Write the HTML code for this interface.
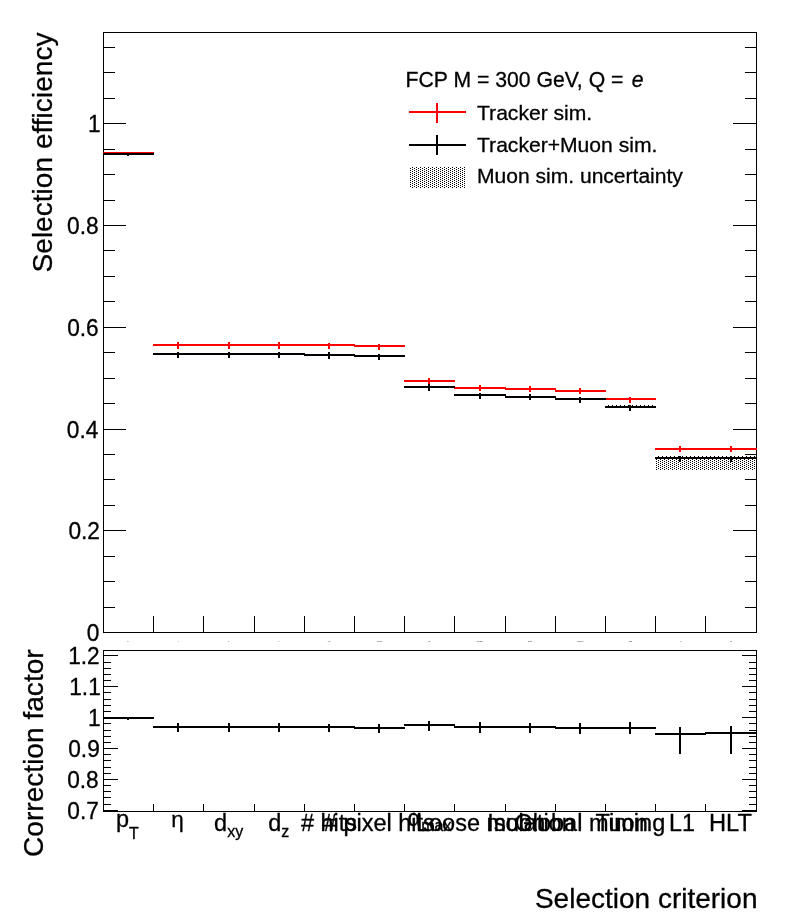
<!DOCTYPE html>
<html lang="en">
<head>
<meta charset="utf-8">
<title>Selection efficiency</title>
<style>
html,body{margin:0;padding:0;background:#fff;}
body{width:796px;height:922px;overflow:hidden;}
svg{display:block;}
text{font-family:"Liberation Sans", sans-serif;fill:#000;stroke:#000;stroke-width:0.3px;stroke-linejoin:round;}
text.tiny{stroke:none;}
</style>
</head>
<body>
<svg width="796" height="922" viewBox="0 0 796 922">
<defs>
<pattern id="dots" x="0" y="0" width="4" height="2" patternUnits="userSpaceOnUse">
<rect x="2" y="0" width="1" height="1" fill="#000"/>
<rect x="0" y="1" width="1" height="1" fill="#000"/>
</pattern>
</defs>
<rect x="0" y="0" width="796" height="922" fill="#fff"/>
<g shape-rendering="crispEdges">
<rect x="103" y="32" width="654" height="1" fill="#000"/>
<rect x="103" y="632" width="654" height="1" fill="#000"/>
<rect x="103" y="32" width="1" height="601" fill="#000"/>
<rect x="756" y="32" width="1" height="601" fill="#000"/>
<rect x="103" y="650" width="654" height="1" fill="#000"/>
<rect x="103" y="811" width="654" height="1" fill="#000"/>
<rect x="103" y="650" width="1" height="162" fill="#000"/>
<rect x="756" y="650" width="1" height="162" fill="#000"/>
<rect x="103" y="607" width="12" height="1" fill="#000"/>
<rect x="745" y="607" width="12" height="1" fill="#000"/>
<rect x="103" y="581" width="12" height="1" fill="#000"/>
<rect x="745" y="581" width="12" height="1" fill="#000"/>
<rect x="103" y="556" width="12" height="1" fill="#000"/>
<rect x="745" y="556" width="12" height="1" fill="#000"/>
<rect x="103" y="530" width="23" height="1" fill="#000"/>
<rect x="733" y="530" width="24" height="1" fill="#000"/>
<rect x="103" y="505" width="12" height="1" fill="#000"/>
<rect x="745" y="505" width="12" height="1" fill="#000"/>
<rect x="103" y="479" width="12" height="1" fill="#000"/>
<rect x="745" y="479" width="12" height="1" fill="#000"/>
<rect x="103" y="454" width="12" height="1" fill="#000"/>
<rect x="745" y="454" width="12" height="1" fill="#000"/>
<rect x="103" y="429" width="23" height="1" fill="#000"/>
<rect x="733" y="429" width="24" height="1" fill="#000"/>
<rect x="103" y="403" width="12" height="1" fill="#000"/>
<rect x="745" y="403" width="12" height="1" fill="#000"/>
<rect x="103" y="378" width="12" height="1" fill="#000"/>
<rect x="745" y="378" width="12" height="1" fill="#000"/>
<rect x="103" y="352" width="12" height="1" fill="#000"/>
<rect x="745" y="352" width="12" height="1" fill="#000"/>
<rect x="103" y="327" width="23" height="1" fill="#000"/>
<rect x="733" y="327" width="24" height="1" fill="#000"/>
<rect x="103" y="301" width="12" height="1" fill="#000"/>
<rect x="745" y="301" width="12" height="1" fill="#000"/>
<rect x="103" y="276" width="12" height="1" fill="#000"/>
<rect x="745" y="276" width="12" height="1" fill="#000"/>
<rect x="103" y="250" width="12" height="1" fill="#000"/>
<rect x="745" y="250" width="12" height="1" fill="#000"/>
<rect x="103" y="225" width="23" height="1" fill="#000"/>
<rect x="733" y="225" width="24" height="1" fill="#000"/>
<rect x="103" y="200" width="12" height="1" fill="#000"/>
<rect x="745" y="200" width="12" height="1" fill="#000"/>
<rect x="103" y="174" width="12" height="1" fill="#000"/>
<rect x="745" y="174" width="12" height="1" fill="#000"/>
<rect x="103" y="149" width="12" height="1" fill="#000"/>
<rect x="745" y="149" width="12" height="1" fill="#000"/>
<rect x="103" y="123" width="23" height="1" fill="#000"/>
<rect x="733" y="123" width="24" height="1" fill="#000"/>
<rect x="103" y="98" width="12" height="1" fill="#000"/>
<rect x="745" y="98" width="12" height="1" fill="#000"/>
<rect x="103" y="72" width="12" height="1" fill="#000"/>
<rect x="745" y="72" width="12" height="1" fill="#000"/>
<rect x="103" y="47" width="12" height="1" fill="#000"/>
<rect x="745" y="47" width="12" height="1" fill="#000"/>
<rect x="153" y="616" width="1" height="17" fill="#000"/>
<rect x="203" y="616" width="1" height="17" fill="#000"/>
<rect x="254" y="616" width="1" height="17" fill="#000"/>
<rect x="304" y="616" width="1" height="17" fill="#000"/>
<rect x="354" y="616" width="1" height="17" fill="#000"/>
<rect x="404" y="616" width="1" height="17" fill="#000"/>
<rect x="454" y="616" width="1" height="17" fill="#000"/>
<rect x="505" y="616" width="1" height="17" fill="#000"/>
<rect x="555" y="616" width="1" height="17" fill="#000"/>
<rect x="605" y="616" width="1" height="17" fill="#000"/>
<rect x="655" y="616" width="1" height="17" fill="#000"/>
<rect x="705" y="616" width="1" height="17" fill="#000"/>
<rect x="103" y="810" width="15" height="1" fill="#000"/>
<rect x="742" y="810" width="15" height="1" fill="#000"/>
<rect x="103" y="804" width="8" height="1" fill="#000"/>
<rect x="749" y="804" width="8" height="1" fill="#000"/>
<rect x="103" y="797" width="8" height="1" fill="#000"/>
<rect x="749" y="797" width="8" height="1" fill="#000"/>
<rect x="103" y="791" width="8" height="1" fill="#000"/>
<rect x="749" y="791" width="8" height="1" fill="#000"/>
<rect x="103" y="785" width="8" height="1" fill="#000"/>
<rect x="749" y="785" width="8" height="1" fill="#000"/>
<rect x="103" y="779" width="15" height="1" fill="#000"/>
<rect x="742" y="779" width="15" height="1" fill="#000"/>
<rect x="103" y="773" width="8" height="1" fill="#000"/>
<rect x="749" y="773" width="8" height="1" fill="#000"/>
<rect x="103" y="767" width="8" height="1" fill="#000"/>
<rect x="749" y="767" width="8" height="1" fill="#000"/>
<rect x="103" y="760" width="8" height="1" fill="#000"/>
<rect x="749" y="760" width="8" height="1" fill="#000"/>
<rect x="103" y="754" width="8" height="1" fill="#000"/>
<rect x="749" y="754" width="8" height="1" fill="#000"/>
<rect x="103" y="748" width="15" height="1" fill="#000"/>
<rect x="742" y="748" width="15" height="1" fill="#000"/>
<rect x="103" y="742" width="8" height="1" fill="#000"/>
<rect x="749" y="742" width="8" height="1" fill="#000"/>
<rect x="103" y="736" width="8" height="1" fill="#000"/>
<rect x="749" y="736" width="8" height="1" fill="#000"/>
<rect x="103" y="730" width="8" height="1" fill="#000"/>
<rect x="749" y="730" width="8" height="1" fill="#000"/>
<rect x="103" y="723" width="8" height="1" fill="#000"/>
<rect x="749" y="723" width="8" height="1" fill="#000"/>
<rect x="103" y="717" width="15" height="1" fill="#000"/>
<rect x="742" y="717" width="15" height="1" fill="#000"/>
<rect x="103" y="711" width="8" height="1" fill="#000"/>
<rect x="749" y="711" width="8" height="1" fill="#000"/>
<rect x="103" y="705" width="8" height="1" fill="#000"/>
<rect x="749" y="705" width="8" height="1" fill="#000"/>
<rect x="103" y="699" width="8" height="1" fill="#000"/>
<rect x="749" y="699" width="8" height="1" fill="#000"/>
<rect x="103" y="692" width="8" height="1" fill="#000"/>
<rect x="749" y="692" width="8" height="1" fill="#000"/>
<rect x="103" y="686" width="15" height="1" fill="#000"/>
<rect x="742" y="686" width="15" height="1" fill="#000"/>
<rect x="103" y="680" width="8" height="1" fill="#000"/>
<rect x="749" y="680" width="8" height="1" fill="#000"/>
<rect x="103" y="674" width="8" height="1" fill="#000"/>
<rect x="749" y="674" width="8" height="1" fill="#000"/>
<rect x="103" y="668" width="8" height="1" fill="#000"/>
<rect x="749" y="668" width="8" height="1" fill="#000"/>
<rect x="103" y="662" width="8" height="1" fill="#000"/>
<rect x="749" y="662" width="8" height="1" fill="#000"/>
<rect x="103" y="655" width="15" height="1" fill="#000"/>
<rect x="742" y="655" width="15" height="1" fill="#000"/>
<rect x="153" y="804" width="1" height="8" fill="#000"/>
<rect x="203" y="804" width="1" height="8" fill="#000"/>
<rect x="254" y="804" width="1" height="8" fill="#000"/>
<rect x="304" y="804" width="1" height="8" fill="#000"/>
<rect x="354" y="804" width="1" height="8" fill="#000"/>
<rect x="404" y="804" width="1" height="8" fill="#000"/>
<rect x="454" y="804" width="1" height="8" fill="#000"/>
<rect x="505" y="804" width="1" height="8" fill="#000"/>
<rect x="555" y="804" width="1" height="8" fill="#000"/>
<rect x="605" y="804" width="1" height="8" fill="#000"/>
<rect x="655" y="804" width="1" height="8" fill="#000"/>
<rect x="705" y="804" width="1" height="8" fill="#000"/>
<rect x="605" y="405" width="51" height="3" fill="url(#dots)"/>
<rect x="656" y="456" width="100" height="14" fill="url(#dots)"/>
<rect x="103" y="152" width="51" height="2" fill="#ff0000"/>
<rect x="127" y="152" width="2" height="2" fill="#ff0000"/>
<rect x="153" y="344" width="51" height="2" fill="#ff0000"/>
<rect x="177" y="342" width="2" height="7" fill="#ff0000"/>
<rect x="203" y="344" width="52" height="2" fill="#ff0000"/>
<rect x="228" y="342" width="2" height="7" fill="#ff0000"/>
<rect x="254" y="344" width="51" height="2" fill="#ff0000"/>
<rect x="278" y="342" width="2" height="7" fill="#ff0000"/>
<rect x="304" y="344" width="51" height="2" fill="#ff0000"/>
<rect x="328" y="343" width="2" height="6" fill="#ff0000"/>
<rect x="354" y="345" width="51" height="2" fill="#ff0000"/>
<rect x="378" y="344" width="2" height="6" fill="#ff0000"/>
<rect x="404" y="380" width="51" height="2" fill="#ff0000"/>
<rect x="428" y="378" width="2" height="6" fill="#ff0000"/>
<rect x="454" y="387" width="52" height="2" fill="#ff0000"/>
<rect x="479" y="385" width="2" height="6" fill="#ff0000"/>
<rect x="505" y="388" width="51" height="2" fill="#ff0000"/>
<rect x="529" y="386" width="2" height="6" fill="#ff0000"/>
<rect x="555" y="390" width="51" height="2" fill="#ff0000"/>
<rect x="579" y="388" width="2" height="6" fill="#ff0000"/>
<rect x="605" y="398" width="51" height="2" fill="#ff0000"/>
<rect x="629" y="397" width="2" height="6" fill="#ff0000"/>
<rect x="655" y="448" width="51" height="2" fill="#ff0000"/>
<rect x="679" y="446" width="2" height="6" fill="#ff0000"/>
<rect x="705" y="448" width="52" height="2" fill="#ff0000"/>
<rect x="730" y="446" width="2" height="6" fill="#ff0000"/>
<rect x="103" y="153" width="51" height="2" fill="#000"/>
<rect x="127" y="153" width="2" height="3" fill="#000"/>
<rect x="153" y="353" width="51" height="2" fill="#000"/>
<rect x="177" y="352" width="2" height="6" fill="#000"/>
<rect x="203" y="353" width="52" height="2" fill="#000"/>
<rect x="228" y="352" width="2" height="6" fill="#000"/>
<rect x="254" y="353" width="51" height="2" fill="#000"/>
<rect x="278" y="352" width="2" height="6" fill="#000"/>
<rect x="304" y="354" width="51" height="2" fill="#000"/>
<rect x="328" y="352" width="2" height="7" fill="#000"/>
<rect x="354" y="355" width="51" height="2" fill="#000"/>
<rect x="378" y="354" width="2" height="6" fill="#000"/>
<rect x="404" y="386" width="51" height="2" fill="#000"/>
<rect x="428" y="384" width="2" height="7" fill="#000"/>
<rect x="454" y="394" width="52" height="2" fill="#000"/>
<rect x="479" y="393" width="2" height="6" fill="#000"/>
<rect x="505" y="396" width="51" height="2" fill="#000"/>
<rect x="529" y="394" width="2" height="6" fill="#000"/>
<rect x="555" y="398" width="51" height="2" fill="#000"/>
<rect x="579" y="397" width="2" height="6" fill="#000"/>
<rect x="605" y="406" width="51" height="2" fill="#000"/>
<rect x="629" y="405" width="2" height="6" fill="#000"/>
<rect x="655" y="457" width="51" height="2" fill="#000"/>
<rect x="679" y="456" width="2" height="6" fill="#000"/>
<rect x="705" y="457" width="51" height="2" fill="#000"/>
<rect x="730" y="456" width="2" height="6" fill="#000"/>
<rect x="103" y="717" width="51" height="2" fill="#000"/>
<rect x="127" y="717" width="2" height="3" fill="#000"/>
<rect x="153" y="726" width="51" height="2" fill="#000"/>
<rect x="177" y="723" width="2" height="9" fill="#000"/>
<rect x="203" y="726" width="52" height="2" fill="#000"/>
<rect x="228" y="723" width="2" height="9" fill="#000"/>
<rect x="254" y="726" width="51" height="2" fill="#000"/>
<rect x="278" y="723" width="2" height="9" fill="#000"/>
<rect x="304" y="726" width="51" height="2" fill="#000"/>
<rect x="328" y="724" width="2" height="8" fill="#000"/>
<rect x="354" y="727" width="51" height="2" fill="#000"/>
<rect x="378" y="724" width="2" height="9" fill="#000"/>
<rect x="404" y="724" width="51" height="2" fill="#000"/>
<rect x="428" y="721" width="2" height="10" fill="#000"/>
<rect x="454" y="726" width="52" height="2" fill="#000"/>
<rect x="479" y="722" width="2" height="11" fill="#000"/>
<rect x="505" y="726" width="51" height="2" fill="#000"/>
<rect x="529" y="723" width="2" height="10" fill="#000"/>
<rect x="555" y="727" width="51" height="2" fill="#000"/>
<rect x="579" y="723" width="2" height="11" fill="#000"/>
<rect x="605" y="727" width="51" height="2" fill="#000"/>
<rect x="629" y="722" width="2" height="12" fill="#000"/>
<rect x="655" y="733" width="51" height="2" fill="#000"/>
<rect x="679" y="727" width="2" height="27" fill="#000"/>
<rect x="705" y="732" width="52" height="2" fill="#000"/>
<rect x="730" y="726" width="2" height="28" fill="#000"/>
<rect x="409" y="111" width="57" height="2" fill="#ff0000"/>
<rect x="436" y="103" width="2" height="20" fill="#ff0000"/>
<rect x="409" y="144" width="57" height="2" fill="#000"/>
<rect x="436" y="135" width="2" height="20" fill="#000"/>
<rect x="410" y="167" width="56" height="21" fill="url(#dots)"/>
</g>
<g>
<text transform="translate(99.45,641.25) scale(1.0,1.03)" font-size="22.7" text-anchor="end">0</text>
<text transform="translate(100.0,538.9) scale(1.0,1.03)" font-size="22.7" text-anchor="end">0.2</text>
<text transform="translate(98.4,437.9) scale(1.0,1.03)" font-size="22.7" text-anchor="end">0.4</text>
<text transform="translate(98.75,336.2) scale(1.0,1.03)" font-size="22.7" text-anchor="end">0.6</text>
<text transform="translate(98.65,234.0) scale(1.0,1.03)" font-size="22.7" text-anchor="end">0.8</text>
<text transform="translate(100.6,131.9) scale(1.0,1.03)" font-size="22.7" text-anchor="end">1</text>
<text transform="translate(98.85,819.05) scale(1.0,1.03)" font-size="22.7" text-anchor="end">0.7</text>
<text transform="translate(98.7,788.0) scale(1.0,1.03)" font-size="22.7" text-anchor="end">0.8</text>
<text transform="translate(99.8,757.3) scale(1.0,1.03)" font-size="22.7" text-anchor="end">0.9</text>
<text transform="translate(100.6,725.75) scale(1.0,1.03)" font-size="22.7" text-anchor="end">1</text>
<text transform="translate(100.8,694.75) scale(1.0,1.03)" font-size="22.7" text-anchor="end">1.1</text>
<text transform="translate(99.7,663.75) scale(1.0,1.03)" font-size="22.7" text-anchor="end">1.2</text>
<text transform="translate(52.3,32.5) rotate(-90)" font-size="28.1" text-anchor="end">Selection efficiency</text>
<text transform="translate(43.0,649.3) rotate(-90)" font-size="28.1" text-anchor="end">Correction factor</text>
<text x="757.5" y="908.2" font-size="28.0" text-anchor="end">Selection criterion</text>
<text x="405.5" y="86.6" font-size="21.2" text-anchor="start">FCP M = 300 GeV, Q = <tspan font-style="italic" dx="2.5">e</tspan></text>
<text x="477" y="119.6" font-size="21.1" text-anchor="start">Tracker sim.</text>
<text x="477" y="152.0" font-size="21.1" text-anchor="start">Tracker+Muon sim.</text>
<text x="477" y="183.2" font-size="21.05" text-anchor="start">Muon sim. uncertainty</text>
<text x="127.4" y="827.0" font-size="23.5" text-anchor="middle">p<tspan font-size="16" dy="12.4">T</tspan></text>
<text x="177.4" y="826.6" font-size="22.5" text-anchor="middle">η</text>
<text x="228.6" y="831.3" font-size="23.5" text-anchor="middle">d<tspan font-size="16" dy="5.2">xy</tspan></text>
<text x="278.8" y="831.3" font-size="23.5" text-anchor="middle">d<tspan font-size="16" dy="5.2">z</tspan></text>
<text x="329.0" y="831.3" font-size="23.5" text-anchor="middle"># hits</text>
<text x="379.3" y="831.3" font-size="23.5" text-anchor="middle"># pixel hits</text>
<text x="429.5" y="826.3" font-size="23.5" text-anchor="middle">α<tspan font-size="16" dy="4.6">max</tspan></text>
<text x="480.6" y="831.0" font-size="23.5" text-anchor="middle">Loose muon</text>
<text x="531.0" y="831.0" font-size="23.5" text-anchor="middle">Isolation</text>
<text x="581.1" y="831.0" font-size="23.5" text-anchor="middle">Global muon</text>
<text x="630.4" y="831.0" font-size="23.5" text-anchor="middle">Timing</text>
<text transform="translate(682.0,831.0) scale(1.0,1.04)" font-size="23.3" text-anchor="middle">L1</text>
<text transform="translate(730.5,831.0) scale(1.0,1.03)" font-size="23.7" text-anchor="middle">HLT</text>
<text class="tiny" x="128.1" y="641.9" font-size="1.1" text-anchor="middle">p<tspan font-size="0.7" dy="0.5">T</tspan></text>
<text class="tiny" x="178.3" y="641.9" font-size="1.1" text-anchor="middle">η</text>
<text class="tiny" x="228.6" y="641.9" font-size="1.1" text-anchor="middle">d<tspan font-size="0.7" dy="0.3">xy</tspan></text>
<text class="tiny" x="278.8" y="641.9" font-size="1.1" text-anchor="middle">d<tspan font-size="0.7" dy="0.3">z</tspan></text>
<text class="tiny" x="329.0" y="641.9" font-size="1.1" text-anchor="middle"># hits</text>
<text class="tiny" x="379.3" y="641.9" font-size="1.1" text-anchor="middle"># pixel hits</text>
<text class="tiny" x="429.5" y="641.9" font-size="1.1" text-anchor="middle">α<tspan font-size="0.7" dy="0.3">max</tspan></text>
<text class="tiny" x="479.7" y="641.9" font-size="1.1" text-anchor="middle">Loose muon</text>
<text class="tiny" x="530.0" y="641.9" font-size="1.1" text-anchor="middle">Isolation</text>
<text class="tiny" x="580.2" y="641.9" font-size="1.1" text-anchor="middle">Global muon</text>
<text class="tiny" x="630.4" y="641.9" font-size="1.1" text-anchor="middle">Timing</text>
<text class="tiny" x="680.7" y="641.9" font-size="1.1" text-anchor="middle">L1</text>
<text class="tiny" x="730.9" y="641.9" font-size="1.1" text-anchor="middle">HLT</text>
</g>
</svg>
</body>
</html>
